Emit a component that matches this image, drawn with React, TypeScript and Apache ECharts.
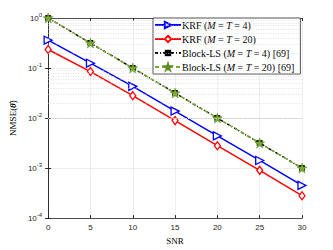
import React, { useEffect, useRef } from "react";
import * as echarts from "echarts";

const snr = [0, 5, 10, 15, 20, 25, 30];
const krf4 = [0.36, 0.125, 0.043, 0.0138, 0.0044, 0.00142, 0.00045];
const krf20 = [0.235, 0.085, 0.028, 0.0089, 0.0028, 0.0009, 0.00028];
const blockLs4 = [1.0, 0.316, 0.1, 0.0316, 0.01, 0.00316, 0.001];
const blockLs20 = [1.0, 0.316, 0.1, 0.0316, 0.01, 0.00316, 0.001];
const seriesNames = [
  "KRF ({i|M} = {i|T} = 4)",
  "KRF ({i|M} = {i|T} = 20)",
  "Block-LS ({i|M} = {i|T} = 4) [69]",
  "Block-LS ({i|M} = {i|T} = 20) [69]",
];
const minorValues: number[] = [];
for (let e = -4; e < 0; e++) {
  for (let m = 2; m <= 9; m++) minorValues.push(m * Math.pow(10, e));
}

const STAR =
  "path://M50 0 L61.2 34.5 L97.6 34.5 L68.8 55.9 L79.4 90.5 L50 69.1 L20.6 90.5 L31.2 55.9 L2.4 34.5 L38.8 34.5 Z";

export default function App() {
  const ref = useRef<HTMLDivElement>(null);
  useEffect(() => {
    const chart = echarts.init(ref.current!, null, { renderer: "svg" });
    const axisColor = "#262626";
    const pair = (ys: number[]) => snr.map((x, i) => [x, ys[i]]);
    chart.setOption({
      animation: false,
      grid: { left: 43, right: 31, top: 18, bottom: 28 },
      xAxis: [
        {
          type: "value",
          min: 0,
          max: 30,
          interval: 5,
          name: "SNR",
          nameLocation: "middle",
          nameGap: 16,
          nameTextStyle: { fontFamily: "Liberation Serif", fontSize: 9, color: "#000" },
          axisLine: { lineStyle: { color: axisColor, width: 0.8 } },
          axisTick: { inside: true, length: 3, lineStyle: { color: axisColor } },
          axisLabel: { fontFamily: "Liberation Sans", fontSize: 8, color: axisColor, margin: 5 },
          splitLine: { show: true, lineStyle: { color: "#e3e3e3", width: 0.6 } },
        },
        {
          type: "value",
          position: "top",
          min: 0,
          max: 30,
          interval: 5,
          axisLine: { show: true, lineStyle: { color: axisColor, width: 0.8 } },
          axisTick: { show: true, inside: true, length: 3, lineStyle: { color: axisColor } },
          axisLabel: { show: false },
          splitLine: { show: false },
        },
      ],
      yAxis: [
        {
          type: "log",
          min: 1e-4,
          max: 1,
          logBase: 10,
          name: "NMSE({t|θ̂})",
          nameLocation: "middle",
          nameGap: 24,
          nameRotate: 90,
          nameTextStyle: {
            fontFamily: "Liberation Serif",
            fontSize: 9,
            color: "#000",
            rich: { t: { fontFamily: "Liberation Serif", fontSize: 9, fontStyle: "italic", fontWeight: "bold" } },
          },
          axisLine: { show: true, lineStyle: { color: axisColor, width: 0.8 } },
          axisTick: { show: true, inside: true, length: 3, lineStyle: { color: axisColor } },
          axisLabel: {
            fontFamily: "Liberation Sans",
            fontSize: 8,
            color: axisColor,
            margin: 6,
            formatter: (v: number) => "10{s|" + Math.round(Math.log10(v)) + "}",
            rich: { s: { fontSize: 6, verticalAlign: "top", padding: [0, 0, 6, 0], fontFamily: "Liberation Sans", color: axisColor } },
          },
          splitLine: { show: true, lineStyle: { color: "#e3e3e3", width: 0.6 } },
        },
        {
          type: "log",
          min: 1e-4,
          max: 1,
          logBase: 10,
          position: "right",
          axisLine: { show: true, lineStyle: { color: axisColor, width: 0.8 } },
          axisTick: { show: true, inside: true, length: 3, lineStyle: { color: axisColor } },
          axisLabel: { show: false },
          splitLine: { show: false },
        },
      ],
      legend: {
        orient: "vertical",
        left: 153,
        top: 18,
        itemWidth: 26,
        itemHeight: 8,
        itemGap: 4,
        padding: [2, 6, 2, 1],
        backgroundColor: "#fff",
        borderColor: axisColor,
        borderWidth: 0.8,
        borderRadius: 0,
        textStyle: {
          fontFamily: "Liberation Serif",
          fontSize: 10,
          color: "#000",
          padding: [0, 0, 0, -4],
          rich: { i: { fontFamily: "Liberation Serif", fontSize: 10, fontStyle: "italic" } },
        },
        data: seriesNames,
      },
      series: [
        {
          type: "line",
          data: [],
          silent: true,
          z: 0,
          markLine: {
            silent: true,
            symbol: "none",
            label: { show: false },
            lineStyle: { color: "#d0d0d0", type: [1, 1.5], width: 0.6 },
            data: minorValues.map((v) => ({ yAxis: v })),
          },
        },
        {
          name: seriesNames[0],
          type: "line",
          data: pair(krf4),
          lineStyle: { width: 1.5, color: "#0000ff" },
          symbol: "triangle",
          symbolRotate: -90,
          symbolSize: 8,
          itemStyle: { color: "#fff", borderColor: "#0000ff", borderWidth: 1.3 },
        },
        {
          name: seriesNames[1],
          type: "line",
          data: pair(krf20),
          lineStyle: { width: 1.5, color: "#ff0000" },
          symbol: "diamond",
          symbolSize: [6, 8],
          itemStyle: { color: "#fff", borderColor: "#ff0000", borderWidth: 1.3 },
        },
        {
          name: seriesNames[2],
          type: "line",
          data: pair(blockLs4),
          lineStyle: { width: 1.5, color: "#000", type: [3, 2, 1, 2] },
          symbol: "rect",
          symbolSize: 5,
          itemStyle: { color: "#000", borderColor: "#000" },
        },
        {
          name: seriesNames[3],
          type: "line",
          data: pair(blockLs20),
          lineStyle: { width: 1.5, color: "#77ac30", type: [4, 3] },
          symbol: STAR,
          symbolSize: 10,
          itemStyle: { color: "#77ac30", borderColor: "#5f8a26", borderWidth: 0.5 },
        },
      ],
    });
    return () => chart.dispose();
  }, []);
  return <div ref={ref} style={{ width: 333, height: 250, marginLeft: -8, marginTop: -8 }} />;
}
